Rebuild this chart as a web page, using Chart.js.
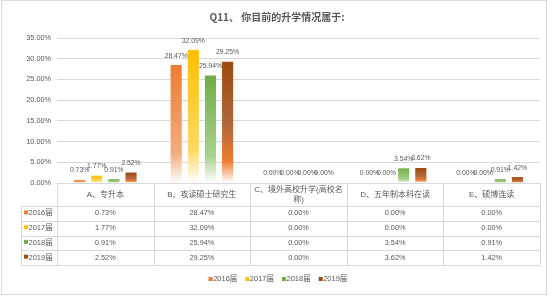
<!DOCTYPE html>
<html>
<head>
<meta charset="utf-8">
<script src="https://cdn.jsdelivr.net/npm/chart.js@4/dist/chart.umd.min.js"></script>
<style>
  html, body { margin: 0; padding: 0; background: #fff; }
  #c { display: block; }
</style>
</head>
<body>
<canvas id="c" width="554" height="296"></canvas>
<script>
// data
const title = 'Q11、 你目前的升学情况属于:';
const categories = ['A、专升本', 'B、攻读硕士研究生', 'C、境外高校升学(高校名称)', 'D、五年制本科在读', 'E、硕博连读'];
const seriesNames = ['2016届', '2017届', '2018届', '2019届'];
const v2016 = [0.73, 28.47, 0.00, 0.00, 0.00];
const v2017 = [1.77, 32.09, 0.00, 0.00, 0.00];
const v2018 = [0.91, 25.94, 0.00, 3.54, 0.91];
const v2019 = [2.52, 29.25, 0.00, 3.62, 1.42];
const yMax = 35;
const yStep = 5;

const seriesValues = [v2016, v2017, v2018, v2019];
const keyColors = ['#ED7D31', '#FFC000', '#70AD47', '#9E480E'];
const gradStops = [
  [[0, '#ED7D31'], [0.75, '#F3AC7E'], [1, '#FFFFFF']],
  [[0, '#FFC000'], [0.75, '#FFD966'], [1, '#FFFFFF']],
  [[0, '#70AD47'], [0.75, '#A9D18E'], [1, '#FFFFFF']],
  [[0, '#9E480E'], [0.5, '#B0663A'], [0.82, '#ED7D31'], [1, '#FFFFFF']]
];

const txt = '#595959';
const line = '#d9d9d9';
const sans = "'Liberation Sans', 'Noto Sans CJK SC', sans-serif";

function pct(v) { return v.toFixed(2) + '%'; }

function barFill(stops) {
  return (ctx) => {
    const chart = ctx.chart;
    if (!chart.chartArea || ctx.type !== 'data') return stops[0][1];
    const y = chart.scales.y;
    const top = y.getPixelForValue(ctx.raw);
    const bottom = y.getPixelForValue(0);
    if (bottom - top < 1) return stops[0][1];
    const g = chart.ctx.createLinearGradient(0, top, 0, bottom);
    stops.forEach(s => g.addColorStop(s[0], s[1]));
    return g;
  };
}

const frame = {
  id: 'frame',
  beforeDraw(chart) {
    const c = chart.ctx;
    c.save();
    c.fillStyle = '#fff';
    c.fillRect(0, 0, chart.width, chart.height);
    c.strokeStyle = line;
    c.lineWidth = 1;
    c.strokeRect(1.5, 0.5, 545, 294);
    // title, centred on the frame
    c.fillStyle = txt;
    c.font = "bold 10px 'Noto Sans CJK SC', sans-serif";
    c.textAlign = 'center';
    c.textBaseline = 'middle';
    c.fillText(title, 277, 17);
    c.restore();
  }
};

const barLabels = {
  id: 'barLabels',
  afterDatasetsDraw(chart) {
    const c = chart.ctx;
    c.save();
    c.font = '6.8px ' + sans;
    c.fillStyle = txt;
    c.textAlign = 'center';
    c.textBaseline = 'bottom';
    chart.data.datasets.forEach((ds, di) => {
      chart.getDatasetMeta(di).data.forEach((bar, i) => {
        c.fillText(pct(ds.data[i]), bar.x, bar.y - 6);
      });
    });
    c.restore();
  }
};

function wrapText(c, s, maxW) {
  const lines = [];
  let cur = '';
  for (const ch of s) {
    if (c.measureText(cur + ch).width > maxW && cur) {
      lines.push(cur);
      cur = ch;
    } else cur += ch;
  }
  if (cur) lines.push(cur);
  return lines;
}

const dataTable = {
  id: 'dataTable',
  afterDraw(chart) {
    const c = chart.ctx;
    const a = chart.chartArea;
    const xs = chart.scales.x;
    const left = a.left, right = a.right, top = a.bottom;
    const keyLeft = 21;
    const headH = 23, rowH = 14.75;
    const headBottom = top + headH;
    const bottom = headBottom + rowH * seriesNames.length;
    const n = categories.length;
    const cw = (right - left) / n;
    const p = v => Math.round(v) + 0.5;

    c.save();
    c.strokeStyle = line;
    c.lineWidth = 1;
    c.beginPath();
    c.moveTo(left, p(top)); c.lineTo(right, p(top));
    for (let r = 0; r <= seriesNames.length; r++) {
      const y = p(headBottom + r * rowH);
      c.moveTo(keyLeft, y); c.lineTo(right, y);
    }
    c.moveTo(p(keyLeft), headBottom); c.lineTo(p(keyLeft), bottom);
    for (let i = 0; i <= n; i++) {
      const x = p(i < n ? xs.getPixelForTick(i) - cw / 2 : right);
      c.moveTo(x, top); c.lineTo(x, bottom);
    }
    c.stroke();

    // header
    c.fillStyle = txt;
    c.textAlign = 'center';
    c.textBaseline = 'middle';
    c.font = '8px ' + sans;
    categories.forEach((cat, i) => {
      const cx = xs.getPixelForTick(i);
      const lines = wrapText(c, cat, cw - 4);
      const y0 = top + headH / 2 - (lines.length - 1) * 5;
      lines.forEach((l, k) => c.fillText(l, cx, y0 + k * 10));
    });

    // rows
    seriesNames.forEach((name, r) => {
      const cy = headBottom + r * rowH + rowH / 2;
      c.fillStyle = keyColors[r];
      c.fillRect(24, cy - 3, 4, 4);
      c.fillStyle = txt;
      c.textAlign = 'left';
      c.font = '7.5px ' + sans;
      c.fillText(name, 28.5, cy);
      c.textAlign = 'center';
      c.font = '7.3px ' + sans;
      seriesValues[r].forEach((v, i) => {
        c.fillText(pct(v), xs.getPixelForTick(i), cy);
      });
    });

    // legend
    c.font = '7.5px ' + sans;
    const widths = seriesNames.map(s => 4.5 + c.measureText(s).width);
    const gap = 8;
    const total = widths.reduce((s, w) => s + w, 0) + gap * (widths.length - 1);
    let x = 278 - total / 2;
    const ly = 279;
    seriesNames.forEach((s, i) => {
      c.fillStyle = keyColors[i];
      c.fillRect(x, ly - 2, 4, 4);
      c.fillStyle = txt;
      c.textAlign = 'left';
      c.fillText(s, x + 4.5, ly);
      x += widths[i] + gap;
    });
    c.restore();
  }
};

new Chart(document.getElementById('c'), {
  type: 'bar',
  data: {
    labels: categories,
    datasets: seriesNames.map((name, i) => ({
      label: name,
      data: seriesValues[i],
      backgroundColor: barFill(gradStops[i]),
      borderWidth: 0,
      categoryPercentage: 0.71,
      barPercentage: 0.65
    }))
  },
  options: {
    responsive: false,
    animation: false,
    layout: { padding: { left: 0, right: 14, top: 38, bottom: 0 } },
    plugins: {
      legend: { display: false },
      tooltip: { enabled: false },
      title: { display: false }
    },
    scales: {
      x: {
        ticks: { display: false },
        grid: { display: false },
        border: { display: false },
        afterFit(scale) { scale.height = 113; }
      },
      y: {
        min: 0,
        max: yMax,
        ticks: {
          stepSize: yStep,
          color: txt,
          padding: 6,
          font: { family: sans, size: 7.3 },
          callback: v => pct(v)
        },
        grid: { color: line, drawTicks: false },
        border: { display: false },
        afterFit(scale) { scale.width = 57; }
      }
    }
  },
  plugins: [frame, barLabels, dataTable]
});
</script>
</body>
</html>
